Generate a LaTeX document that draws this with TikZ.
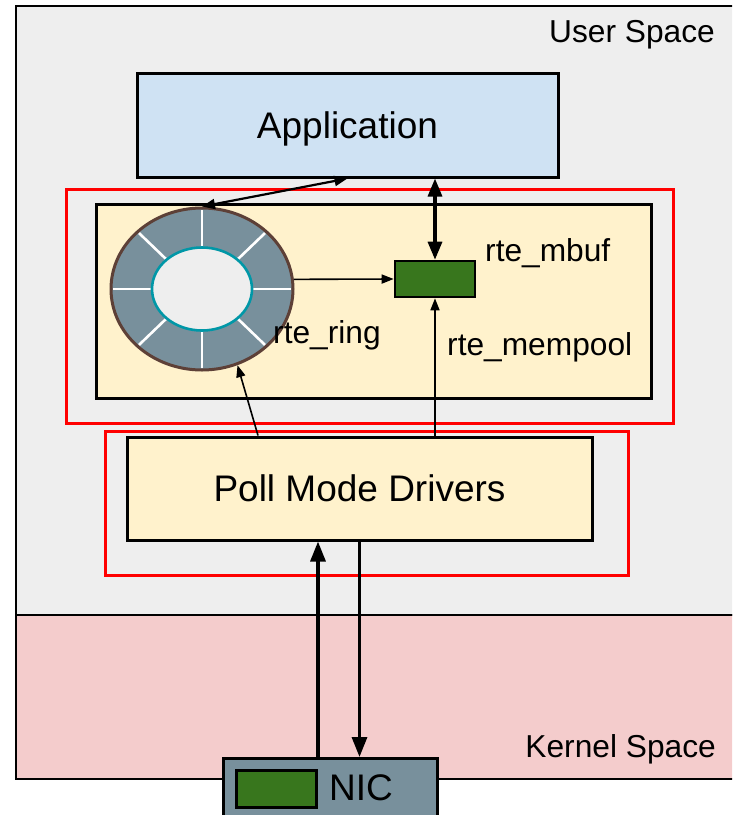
\documentclass[tikz,border=0pt]{standalone}
\usepackage{fontspec}
\setmainfont{Liberation Sans}
\usetikzlibrary{arrows.meta,calc,shapes.geometric}

\definecolor{userbg}{HTML}{EEEEEE}
\definecolor{kernelbg}{HTML}{F4CCCC}
\definecolor{appbg}{HTML}{CFE2F3}
\definecolor{creambg}{HTML}{FFF2CC}
\definecolor{chipgreen}{HTML}{38761D}
\definecolor{slate}{HTML}{78909C}
\definecolor{ringedge}{HTML}{5D4037}
\definecolor{holeedge}{HTML}{0097A7}
\definecolor{redframe}{HTML}{FF0000}

\tikzset{
  region/.style={draw=black, line width=2.4pt, rectangle, inner sep=0pt, anchor=north west},
  block/.style={draw=black, line width=3pt, rectangle, inner sep=0pt},
  frame/.style={draw=redframe, line width=3.4pt, rectangle, inner sep=0pt, anchor=north west},
  bigtext/.style={font=\fontsize{37}{40}\selectfont},
  labeltext/.style={font=\fontsize{31.7}{34}\selectfont, inner sep=0pt},
  spoke/.style={draw=white, line width=2.6pt},
  heavyarrow/.style={line width=3.2pt, -{Triangle[length=20pt,width=15pt]}},
  heavytwoway/.style={line width=3.2pt, {Triangle[length=18pt,width=14pt]}-{Triangle[length=18pt,width=14pt]}},
  midtwoway/.style={line width=2.2pt, {Triangle[length=13pt,width=10pt]}-{Triangle[length=13pt,width=10pt]}},
  lightarrow/.style={line width=1.6pt, -{Triangle[length=12pt,width=9pt]}},
}

\begin{document}
\begin{tikzpicture}[x=1pt,y=-1pt]
\useasboundingbox (0,0) rectangle (732,815);
\clip (0,0) rectangle (732,815);

% user space and kernel space bands
\node[region, fill=userbg, minimum width=730pt, minimum height=609pt] (user) at (15,5) {};
\node[region, fill=kernelbg, minimum width=730pt, minimum height=164pt] (kernel) at (15,614) {};
\node[labeltext, anchor=base east] (userlbl) at (715,42) {User Space};
\node[labeltext, anchor=base east] (kernellbl) at (716,757) {Kernel Space};

% application
\node[block, fill=appbg, minimum width=421pt, minimum height=104pt, bigtext, text depth=0pt] (app) at (347.5,125) {Application};

% DPDK libraries
\node[frame, minimum width=607pt, minimum height=234pt] (libframe) at (65,188) {};
\node[block, fill=creambg, minimum width=555pt, minimum height=194pt, anchor=north west] (libs) at (95,203) {};

% rte_ring
\node[ellipse, draw=ringedge, fill=slate, line width=3pt, minimum width=182pt, minimum height=162pt, inner sep=0pt] (ring) at (202,289) {};
\foreach \a in {0,45,...,315}
  \draw[spoke] ($(ring.center)+(\a:50 and 41.5)$) -- ($(ring.center)+(\a:89 and 79)$);
\node[ellipse, draw=holeedge, fill=userbg, line width=2.6pt, minimum width=100pt, minimum height=83pt, inner sep=0pt] (hole) at (ring.center) {};
\node[labeltext, anchor=base west] (ringlbl) at (273,343) {rte\_ring};

% rte_mbuf
\node[block, fill=chipgreen, line width=2.6pt, minimum width=80pt, minimum height=36pt] (mbuf) at (435,279) {};
\node[labeltext, anchor=base west] (mbuflbl) at (485,261) {rte\_mbuf};
\node[labeltext, anchor=base west] (poollbl) at (447,355) {rte\_mempool};

% poll mode drivers
\node[frame, minimum width=523pt, minimum height=144pt] (pmdframe) at (104,430) {};
\node[block, fill=creambg, minimum width=465pt, minimum height=103pt, bigtext] (pmd) at (359.5,488.5) {Poll Mode Drivers};

% NIC
\node[block, fill=slate, minimum width=214pt, minimum height=80pt, anchor=north west] (nic) at (222,757) {};
\node[block, fill=chipgreen, line width=2.6pt, minimum width=80pt, minimum height=37pt, anchor=north west] (nicchip) at (235,769) {};
\node[bigtext, inner sep=0pt, anchor=base west] (niclbl) at (329,800) {NIC};

% connector guides
\coordinate (rxline) at (318,0);
\coordinate (ringfeed) at (258,0);

% connectors
\draw[heavyarrow] (nic.north -| rxline) -- (pmd.south -| rxline);
\draw[heavyarrow] (pmd.south) -- (nic.north -| pmd.south);
\draw[lightarrow] (pmd.north -| ringfeed) -- (ring.-65);
\draw[lightarrow] (pmd.north -| mbuf.south) -- (mbuf.south);
\draw[lightarrow] (ring.6) -- (mbuf.west);
\draw[heavytwoway] (app.south -| mbuf.north) -- (mbuf.north);
\draw[midtwoway] (ring.north) -- (app.south);
\end{tikzpicture}
\end{document}
